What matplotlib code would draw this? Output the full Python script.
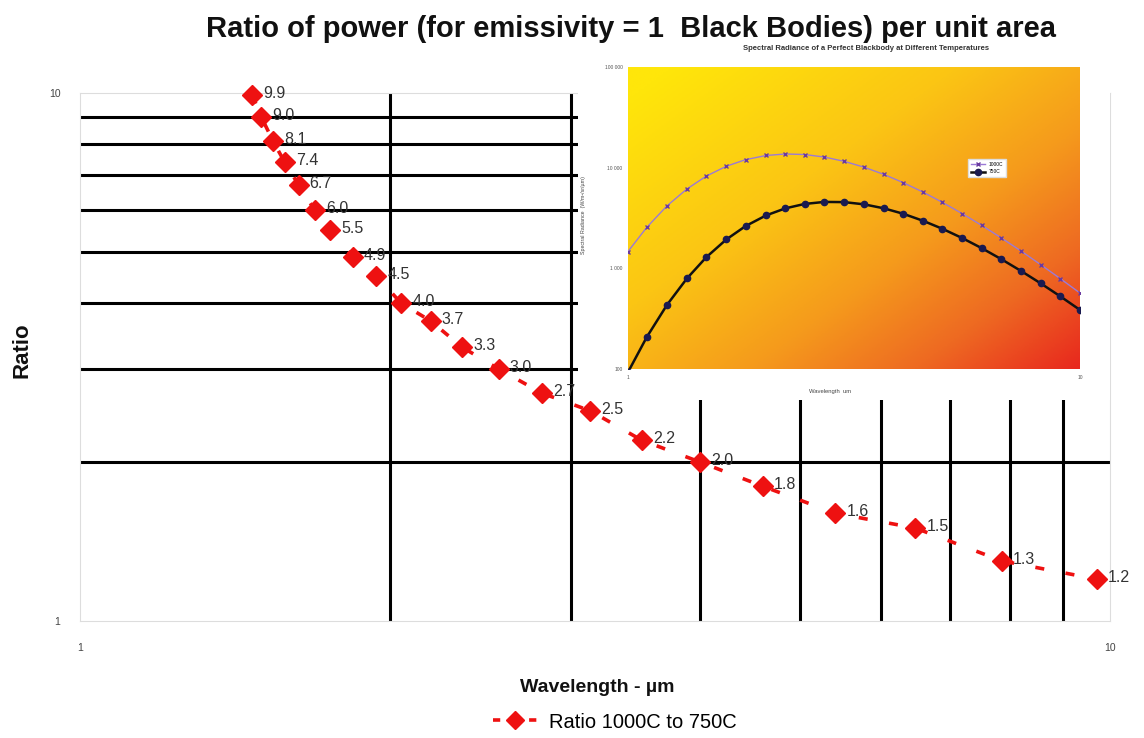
import matplotlib
matplotlib.use('Agg')
import matplotlib.pyplot as plt
import numpy as np
from matplotlib.colors import LinearSegmentedColormap
from matplotlib.lines import Line2D
from matplotlib.ticker import FixedLocator, NullFormatter, FixedFormatter

plt.rcParams['font.family'] = ['Liberation Sans', 'DejaVu Sans']

# main chart: ratio of black body power 1000C / 750C
wavelength = [1.47, 1.50, 1.54, 1.58, 1.63, 1.69, 1.75, 1.84, 1.94, 2.05, 2.19,
              2.35, 2.55, 2.81, 3.13, 3.51, 4.00, 4.60, 5.41, 6.47, 7.85, 9.71]
ratio = [9.9, 9.0, 8.1, 7.4, 6.7, 6.0, 5.5, 4.9, 4.5, 4.0, 3.7,
         3.3, 3.0, 2.7, 2.5, 2.2, 2.0, 1.8, 1.6, 1.5, 1.3, 1.2]
ratio_labels = ['9.9', '9.0', '8.1', '7.4', '6.7', '6.0', '5.5', '4.9', '4.5', '4.0', '3.7',
                '3.3', '3.0', '2.7', '2.5', '2.2', '2.0', '1.8', '1.6', '1.5', '1.3', '1.2']

# inset chart: spectral radiance curves
inset_wl = [1.0, 1.1, 1.22, 1.35, 1.49, 1.65, 1.82, 2.02, 2.23, 2.46, 2.72, 3.01,
            3.33, 3.68, 4.06, 4.49, 4.96, 5.49, 6.06, 6.70, 7.41, 8.19, 9.05, 10.0]
rad_750 = [93, 207, 434, 793, 1289, 1935, 2627, 3354, 3945, 4363, 4568, 4547,
           4321, 3948, 3489, 2973, 2472, 1997, 1587, 1232, 940, 708, 526, 386]
rad_1000 = [1469, 2550, 4177, 6144, 8243, 10328, 12007, 13210, 13677, 13505, 12745, 11551,
            10106, 8579, 7112, 5730, 4525, 3493, 2671, 2003, 1483, 1086, 789, 568]

W, H = 1144, 738
fig = plt.figure(figsize=(W / 100, H / 100), dpi=100)
fig.patch.set_facecolor('white')


def fx(px):
    return px / W


def fy(py):
    return 1 - py / H


ax = fig.add_axes([fx(80), fy(621), fx(1030), (621 - 93) / H])
ax.set_xscale('log')
ax.set_yscale('log')
ax.set_xlim(1, 10)
ax.set_ylim(1, 10)

minors = [2, 3, 4, 5, 6, 7, 8, 9]
ax.xaxis.set_minor_locator(FixedLocator(minors))
ax.yaxis.set_minor_locator(FixedLocator(minors))
ax.xaxis.set_minor_formatter(NullFormatter())
ax.yaxis.set_minor_formatter(NullFormatter())
ax.xaxis.set_major_locator(FixedLocator([1, 10]))
ax.yaxis.set_major_locator(FixedLocator([1, 10]))
ax.xaxis.set_major_formatter(FixedFormatter(['1', '10']))
ax.yaxis.set_major_formatter(FixedFormatter(['1', '10']))
ax.tick_params(which='both', length=0)
ax.tick_params(axis='x', pad=16, labelsize=7.5, labelcolor='#444444')
ax.tick_params(axis='y', pad=14, labelsize=7.5, labelcolor='#444444')
ax.grid(which='minor', color='black', linewidth=2.2)
ax.grid(which='major', visible=False)
for s in ax.spines.values():
    s.set_color('#dddddd')
    s.set_linewidth(0.8)

ax.plot(wavelength, ratio, color='#ee1111', linewidth=2.6, linestyle=(0, (2.5, 6)),
        marker='D', markersize=10, markerfacecolor='#ee1111', markeredgecolor='#ee1111',
        zorder=3, clip_on=False)
for x, y, lbl in zip(wavelength, ratio, ratio_labels):
    ax.annotate(lbl, (x, y), xytext=(8, 1), textcoords='offset points',
                va='center', ha='left', fontsize=11.5, color='#333333', zorder=4)

fig.text(fx(631), fy(29), 'Ratio of power (for emissivity = 1  Black Bodies) per unit area',
         ha='center', va='center', fontsize=21, fontweight='bold', color='#111111')
fig.text(fx(22), fy(350), 'Ratio', rotation=90, ha='center', va='center',
         fontsize=16, fontweight='bold', color='#111111')
fig.text(fx(597), fy(688), 'Wavelength - µm', ha='center', va='center',
         fontsize=14, fontweight='bold', color='#111111')

handle = Line2D([], [], color='#ee1111', linewidth=2.6, linestyle=(0, (2, 3)),
                marker='D', markersize=9, markerfacecolor='#ee1111', markeredgecolor='#ee1111')
fig.legend([handle], ['Ratio 1000C to 750C'], loc='center',
           bbox_to_anchor=(fx(615), fy(722)), frameon=False, fontsize=14.5,
           handlelength=2.2, handletextpad=0.6)

# white panel holding the inset picture
panel = fig.add_axes([fx(578), fy(400), fx(532), (400 - 40) / H])
panel.set_facecolor('white')
panel.set_xticks([])
panel.set_yticks([])
for s in panel.spines.values():
    s.set_visible(False)

inset_box = [fx(628), fy(369), fx(452), (369 - 67) / H]
bg = fig.add_axes(inset_box)
cmap = LinearSegmentedColormap.from_list('heat', [
    (0.0, '#ffe60a'), (0.35, '#fbc514'), (0.6, '#f59a1c'), (0.8, '#ee6a22'), (1.0, '#e8281e')])
gx, gy = np.meshgrid(np.linspace(0, 1, 300), np.linspace(1, 0, 200))
grad = np.clip(0.55 * gx + 0.5 * (1 - gy) - 0.05, 0, 1)
bg.imshow(grad, cmap=cmap, aspect='auto', extent=[0, 1, 0, 1], vmin=0, vmax=1)
bg.set_axis_off()

axi = fig.add_axes(inset_box)
axi.patch.set_alpha(0)
axi.set_xscale('log')
axi.set_yscale('log')
axi.set_xlim(1, 10)
axi.set_ylim(100, 100000)
axi.plot(inset_wl, rad_1000, color='#9b7ad6', linewidth=1.0, marker='x',
         markersize=3.5, markeredgecolor='#6a3aa0', markeredgewidth=1.0, label='1000C')
axi.plot(inset_wl, rad_750, color='#111111', linewidth=1.8, marker='o',
         markersize=4.5, markerfacecolor='#1a1a50', markeredgecolor='#1a1a50', label='750C')
axi.yaxis.set_major_locator(FixedLocator([100, 1000, 10000, 100000]))
axi.yaxis.set_major_formatter(FixedFormatter(['100', '1 000', '10 000', '100 000']))
axi.xaxis.set_major_locator(FixedLocator([1, 10]))
axi.xaxis.set_major_formatter(FixedFormatter(['1', '10']))
axi.yaxis.set_minor_locator(FixedLocator([]))
axi.xaxis.set_minor_locator(FixedLocator([]))
axi.tick_params(which='both', length=0, labelsize=3.5, labelcolor='#555555', pad=4)
for s in axi.spines.values():
    s.set_visible(False)
axi.legend(loc='center', bbox_to_anchor=(fx(987), fy(168)), bbox_transform=fig.transFigure,
           fontsize=3.5, frameon=True, framealpha=1, edgecolor='#dddddd', fancybox=False,
           handlelength=3, borderpad=0.5)

fig.text(fx(866), fy(48), 'Spectral Radiance of a Perfect Blackbody at Different Temperatures',
         ha='center', va='center', fontsize=5.5, fontweight='bold', color='#333333')
fig.text(fx(830), fy(392), 'Wavelength  um', ha='center', va='center',
         fontsize=4.2, color='#444444')
fig.text(fx(584), fy(215), 'Spectral Radiance  (W/m²/sr/µm)', rotation=90, ha='center',
         va='center', fontsize=3.8, color='#444444')

fig.savefig('out.png', dpi=100)
